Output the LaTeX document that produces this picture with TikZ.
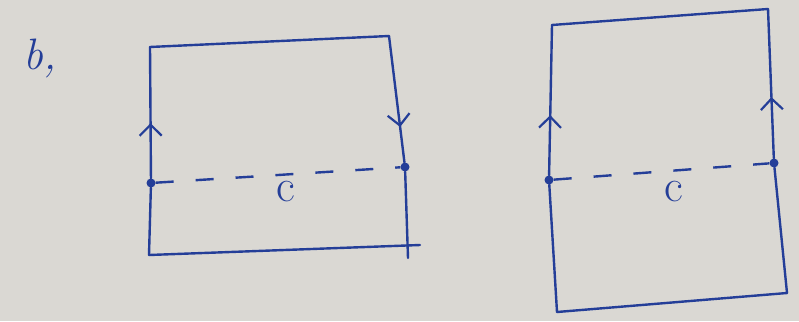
\documentclass[tikz,border=0pt]{standalone}
\usepackage{fontspec}
\usepackage{tikz}
\usetikzlibrary{arrows.meta,decorations.markings}
\definecolor{ink}{RGB}{36,62,152}
\definecolor{paper}{RGB}{218,216,211}

\begin{document}
\begin{tikzpicture}[
x=1pt, y=-1pt,
edge/.style={draw=ink, line width=2.4pt, line join=round, line cap=round},
cut/.style={draw=ink, line width=2.4pt, dash pattern=on 18pt off 22pt},
dot/.style={circle, fill=ink, inner sep=0pt, minimum size=9pt},
tip/.style={postaction={decorate}, decoration={markings, mark=at position #1 with {\arrow[ink, line width=2.2pt]{Straight Barb[length=11pt,width=22pt]}}}},
lbl/.style={text=ink, font=\fontsize{46}{50}\selectfont}
]
\fill[paper] (0,0) rectangle (799,321);
\useasboundingbox (0,0) rectangle (799,321);

\node[lbl, font=\fontsize{44}{48}\selectfont\itshape] (tag) at (40,58) {b,};

% left square
\coordinate (ltl) at (150,47);
\coordinate (ltr) at (389,36);
\coordinate (lbl) at (149,255);
\coordinate (lbr) at (406,246);
\coordinate (lbx) at (420,245);
\coordinate (lby) at (408,258);
\node[dot] (lp) at (151,183) {};
\node[dot] (lq) at (405,167) {};
\draw[edge] (ltl) -- (ltr);
\draw[edge, tip=0.42] (lp) -- (ltl);
\draw[edge] (lbl) -- (lp);
\draw[edge, tip=0.72] (ltr) -- (lq);
\draw[edge] (lq) -- (lby);
\draw[edge] (lbl) -- (lbx);
\draw[cut] (lp) -- (lq);
\node[lbl] (lc) at (286,192) {c};

% right square
\coordinate (rtl) at (552,25);
\coordinate (rtr) at (768,9);
\coordinate (rbl) at (557,312);
\coordinate (rbr) at (787,293);
\node[dot] (rp) at (549,180) {};
\node[dot] (rq) at (774,163) {};
\draw[edge] (rtl) -- (rtr);
\draw[edge, tip=0.40] (rp) -- (rtl);
\draw[edge] (rbl) -- (rp);
\draw[edge, tip=0.41] (rq) -- (rtr);
\draw[edge] (rbr) -- (rq);
\draw[edge] (rbl) -- (rbr);
\draw[cut] (rp) -- (rq);
\node[lbl] (rc) at (674,192) {c};
\end{tikzpicture}
\end{document}
